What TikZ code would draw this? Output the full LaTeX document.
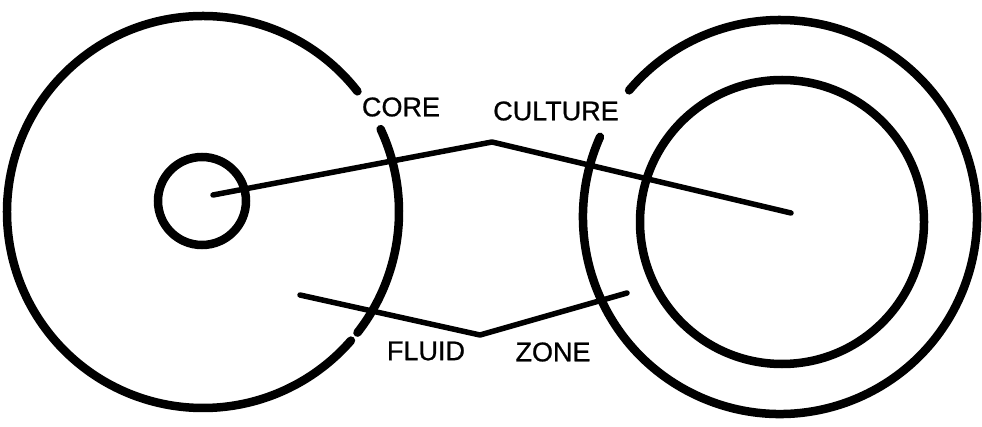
\documentclass[tikz,border=0pt]{standalone}
\usepackage{fontspec}
\setmainfont{Liberation Sans}
\newfontfamily\lblfont[FakeBold=0.8]{Liberation Sans}
\begin{document}
\begin{tikzpicture}[x=1pt,y=1pt,
  ring/.style={line width=8.5pt, line cap=round},
  leader/.style={line width=5.5pt, line cap=round, line join=round},
  lbl/.style={inner sep=0pt, font=\lblfont\fontsize{27}{30}\selectfont}]
\useasboundingbox (0,0) rectangle (982,426);
% centres
\coordinate (cL) at (203,214);
\coordinate (cS) at (202,225);
\coordinate (cRo) at (780,209);
\coordinate (cRi) at (782,204);
% left outer circle with gaps
\draw[ring] (cL) ++(38:196) arc[start angle=38, end angle=319, radius=196];
\draw[ring] (cL) ++(-38:196) arc[start angle=-38, end angle=25, radius=196];
% left inner small circle
\draw[ring] (cS) circle[radius=44];
% right outer circle with gap
\draw[ring] (cRo) ++(156:197) arc[start angle=156, end angle=500, radius=197];
% right inner circle
\draw[ring] (cRi) circle[radius=142];
% leader lines
\coordinate (a1) at (213,231);
\coordinate (a2) at (492,284);
\coordinate (a3) at (791,213);
\coordinate (b1) at (300,131);
\coordinate (b2) at (480,91);
\coordinate (b3) at (627,133);
\draw[leader] (a1) -- (a2) -- (a3);
\draw[leader] (b1) -- (b2) -- (b3);
% labels
\node[lbl] (core) at (401,319) {CORE};
\node[lbl] (culture) at (556,315) {CULTURE};
\node[lbl] (fluid) at (426,75) {FLUID};
\node[lbl] (zone) at (553,74) {ZONE};
\end{tikzpicture}
\end{document}
